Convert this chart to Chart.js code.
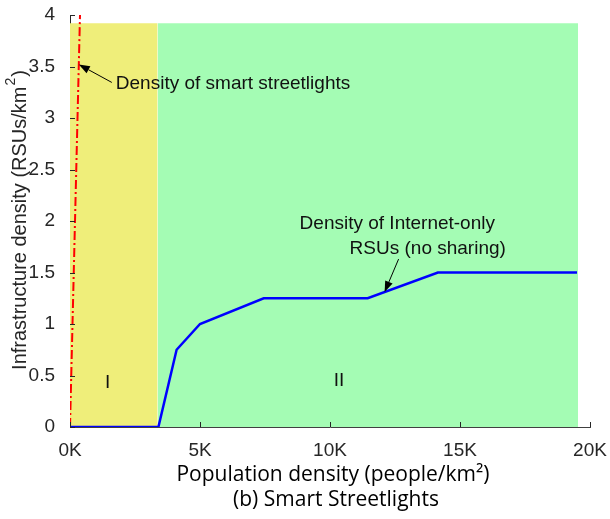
<!DOCTYPE html>
<html>
<head>
<meta charset="utf-8">
<script src="https://cdn.jsdelivr.net/npm/chart.js@4/dist/chart.umd.min.js"></script>
<style>
  html, body { margin: 0; padding: 0; background: #fff; }
  #wrap { width: 610px; height: 519px; }
</style>
</head>
<body>
<div id="wrap"><canvas id="chart"></canvas></div>
<script>
// axis ticks
const xTicks = [0, 5000, 10000, 15000, 20000];
const yTicks = [0, 0.5, 1, 1.5, 2, 2.5, 3, 3.5, 4];

// shaded regions I and II (population density bounds, shaded height)
const regionNames = ['I', 'II'];
const regionStart = [0, 3370];
const regionEnd = [3370, 19540];
const regionTop = 3.92;

// density of smart streetlights (grows almost vertically)
const lightX = [0, 385];
const lightY = [0, 4];

// density of Internet-only RSUs, no sharing
const rsuX = [0, 3400, 4100, 5000, 7450, 11450, 14150, 19500];
const rsuY = [0, 0, 0.75, 1, 1.25, 1.25, 1.5, 1.5];

const regionColors = ['#efee7a', '#a4fcb4'];
const sansFamily = '"Liberation Sans", Arial, sans-serif';
const tickFont = '19px ' + sansFamily;
const noteFont = '19px ' + sansFamily;
const titleFont = '21px "Open Sans", sans-serif';

function toPoints(xs, ys) {
    return xs.map((x, i) => ({ x: x, y: ys[i] }));
}

const regionSets = regionNames.map((name, i) => ({
    label: name,
    data: [{ x: regionStart[i], y: regionTop }, { x: regionEnd[i], y: regionTop }],
    showLine: true,
    fill: 'origin',
    backgroundColor: regionColors[i],
    borderWidth: 0,
    pointRadius: 0,
    order: 5
}));

// text + raised exponent + tail, centred on (cx, cy)
function drawSupText(ctx, head, sup, tail, cx, cy, size) {
    const big = size + 'px ' + sansFamily;
    const small = Math.round(size * 0.72) + 'px ' + sansFamily;
    ctx.font = big;
    const w1 = ctx.measureText(head).width;
    const w3 = ctx.measureText(tail).width;
    ctx.font = small;
    const w2 = ctx.measureText(sup).width;
    let x0 = cx - (w1 + w2 + w3) / 2;
    ctx.textAlign = 'left';
    ctx.font = big;
    ctx.fillText(head, x0, cy);
    ctx.font = small;
    ctx.fillText(sup, x0 + w1 + 1, cy - size * 0.42);
    ctx.font = big;
    ctx.fillText(tail, x0 + w1 + w2 + 2, cy);
}

// draws inward ticks, region labels, arrows and axis titles
const decorations = {
    id: 'decorations',
    afterDatasetsDraw(chart) {
        const { ctx, chartArea: area, scales: { x, y } } = chart;
        ctx.save();

        // inward tick marks
        ctx.strokeStyle = '#262626';
        ctx.lineWidth = 1;
        ctx.beginPath();
        xTicks.forEach(v => {
            const px = Math.round(x.getPixelForValue(v)) + 0.5;
            ctx.moveTo(px, area.bottom);
            ctx.lineTo(px, area.bottom - 5);
        });
        yTicks.forEach(v => {
            const py = Math.round(y.getPixelForValue(v)) + 0.5;
            ctx.moveTo(area.left, py);
            ctx.lineTo(area.left + 5, py);
        });
        ctx.stroke();

        // region labels
        ctx.fillStyle = '#111';
        ctx.font = tickFont;
        ctx.textAlign = 'center';
        ctx.textBaseline = 'middle';
        ctx.fillText('I', x.getPixelForValue(1450), y.getPixelForValue(0.43));
        ctx.fillText('II', x.getPixelForValue(10350), y.getPixelForValue(0.45));

        // arrow + note for the streetlight line
        ctx.font = noteFont;
        const lx = x.getPixelForValue(339);
        const ly = y.getPixelForValue(3.52);
        drawArrow(ctx, lx, ly, lx + 33, ly + 18);
        ctx.textAlign = 'left';
        ctx.fillText('Density of smart streetlights', lx + 37, ly + 19);

        // arrow + note for the RSU line
        const tipX = x.getPixelForValue(12100);
        const tipY = y.getPixelForValue(1.31);
        drawArrow(ctx, tipX, tipY, tipX + 14, tipY - 33);
        ctx.fillText('Density of Internet-only', tipX - 85, tipY - 68);
        ctx.fillText('RSUs (no sharing)', tipX - 35, tipY - 43);

        // axis titles
        ctx.fillStyle = '#000';
        ctx.font = titleFont;
        ctx.textAlign = 'center';
        const midX = (area.left + area.right) / 2;
        ctx.fillText('Population density (people/km\u00b2)', midX + 3, 475);
        ctx.fillText('(b) Smart Streetlights', midX + 6, 500);

        ctx.fillStyle = '#262626';
        ctx.translate(20, (area.top + area.bottom) / 2);
        ctx.rotate(-Math.PI / 2);
        drawSupText(ctx, 'Infrastructure density (RSUs/km', '2', ')', 0, 0, 20);
        ctx.restore();
    }
};

function drawArrow(ctx, tx, ty, fx, fy) {
    const ang = Math.atan2(ty - fy, tx - fx);
    const head = 11, half = 4;
    const bx = tx - head * Math.cos(ang);
    const by = ty - head * Math.sin(ang);
    ctx.save();
    ctx.strokeStyle = '#000';
    ctx.fillStyle = '#000';
    ctx.lineWidth = 1;
    ctx.beginPath();
    ctx.moveTo(fx, fy);
    ctx.lineTo(bx, by);
    ctx.stroke();
    ctx.beginPath();
    ctx.moveTo(tx, ty);
    ctx.lineTo(bx + half * Math.sin(ang), by - half * Math.cos(ang));
    ctx.lineTo(bx - half * Math.sin(ang), by + half * Math.cos(ang));
    ctx.closePath();
    ctx.fill();
    ctx.restore();
}

new Chart(document.getElementById('chart'), {
    type: 'scatter',
    data: {
        datasets: [
            {
                label: 'Density of smart streetlights',
                data: toPoints(lightX, lightY),
                showLine: true,
                borderColor: '#ff0000',
                borderWidth: 2,
                borderDash: [9, 3, 2, 3],
                pointRadius: 0,
                fill: false,
                order: 1
            },
            {
                label: 'Density of Internet-only RSUs (no sharing)',
                data: toPoints(rsuX, rsuY),
                showLine: true,
                borderColor: '#0000ff',
                borderWidth: 2.5,
                pointRadius: 0,
                fill: false,
                order: 2
            },
            ...regionSets
        ]
    },
    options: {
        responsive: true,
        maintainAspectRatio: false,
        animation: false,
        layout: { padding: { top: 15, right: 20, left: 0, bottom: 0 } },
        plugins: {
            legend: { display: false },
            tooltip: { enabled: false }
        },
        scales: {
            x: {
                type: 'linear',
                min: 0,
                max: 20000,
                afterBuildTicks: s => { s.ticks = xTicks.map(v => ({ value: v })); },
                afterFit: s => {
                    s.height = 92;
                    s.paddingLeft = 0;
                    s.paddingRight = 0;
                },
                grid: { display: false },
                border: { display: true, color: '#404040', width: 1 },
                ticks: {
                    padding: 4,
                    maxRotation: 0,
                    color: '#262626',
                    font: { family: sansFamily, size: 19 },
                    callback: v => (v / 1000) + 'K'
                }
            },
            y: {
                min: 0,
                max: 4,
                afterBuildTicks: s => { s.ticks = yTicks.map(v => ({ value: v })); },
                afterFit: s => {
                    s.width = 70;
                    s.paddingTop = 0;
                    s.paddingBottom = 0;
                },
                grid: { display: false },
                border: { display: true, color: '#262626', width: 1 },
                ticks: {
                    padding: 7,
                    color: '#262626',
                    font: { family: sansFamily, size: 19 },
                    callback: v => String(v)
                }
            }
        }
    },
    plugins: [decorations]
});
</script>
</body>
</html>
